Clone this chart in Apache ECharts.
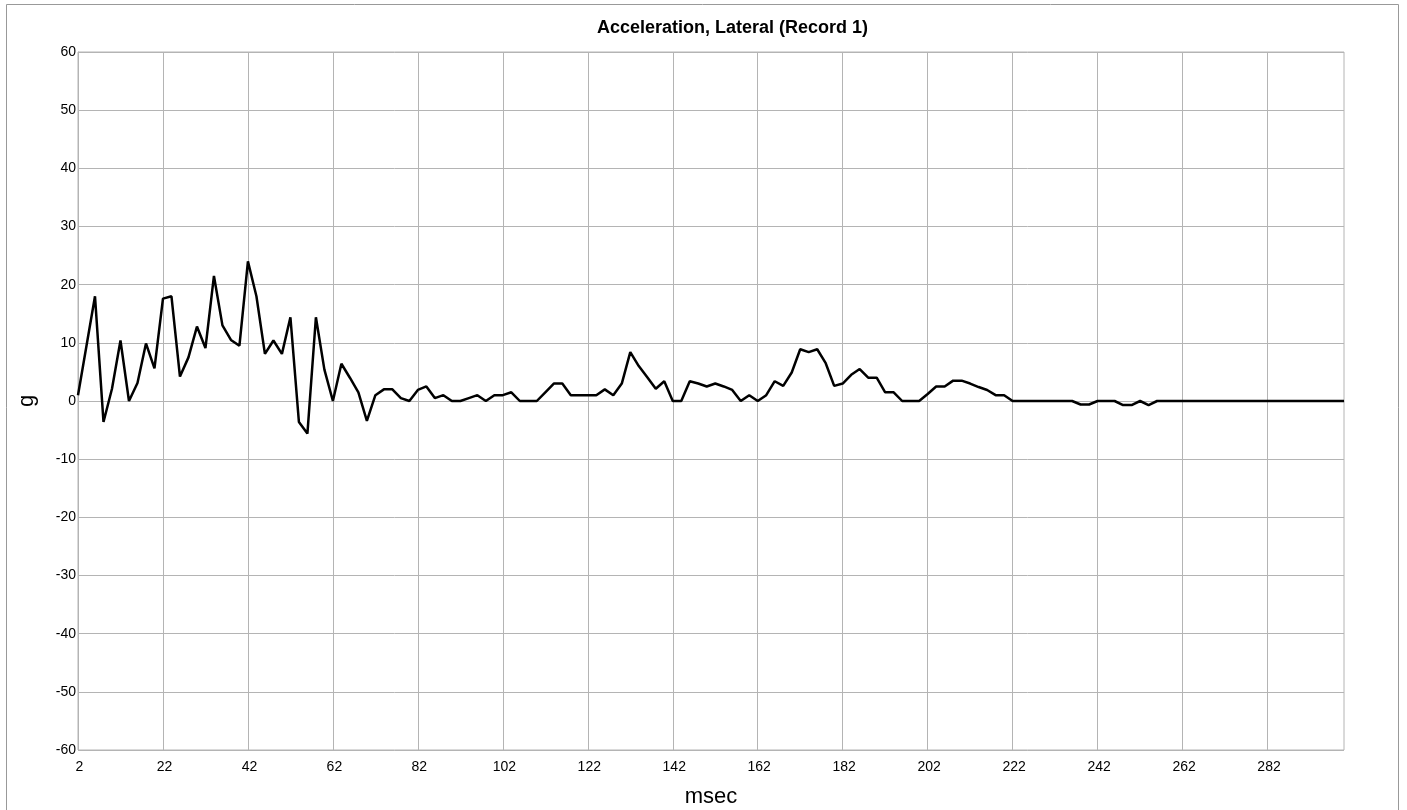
<!DOCTYPE html>
<html>
<head>
<meta charset="utf-8">
<script src="https://cdn.jsdelivr.net/npm/echarts@6/dist/echarts.min.js"></script>
<style>
  html, body { margin: 0; padding: 0; background: #fff; }
  #main { width: 1407px; height: 810px; }
</style>
</head>
<body>
<div id="main"></div>
<script>
// time stamps (msec)
var msec = [
  2, 4, 6, 8, 10, 12, 14, 16, 18, 20, 22, 24, 26, 28, 30, 32, 34, 36, 38, 40,
  42, 44, 46, 48, 50, 52, 54, 56, 58, 60, 62, 64, 66, 68, 70, 72, 74, 76, 78, 80,
  82, 84, 86, 88, 90, 92, 94, 96, 98, 100, 102, 104, 106, 108, 110, 112, 114, 116, 118, 120,
  122, 124, 126, 128, 130, 132, 134, 136, 138, 140, 142, 144, 146, 148, 150, 152, 154, 156, 158, 160,
  162, 164, 166, 168, 170, 172, 174, 176, 178, 180, 182, 184, 186, 188, 190, 192, 194, 196, 198, 200,
  202, 204, 206, 208, 210, 212, 214, 216, 218, 220, 222, 224, 226, 228, 230, 232, 234, 236, 238, 240,
  242, 244, 246, 248, 250, 252, 254, 256, 258, 260, 262, 264, 266, 268, 270, 272, 274, 276, 278, 280,
  282, 284, 286, 288, 290, 292, 294, 296, 298, 300
];

// lateral acceleration (g)
var accel = [
  1.0, 9.5, 18.0, -3.6, 2.1, 10.4, 0, 3.1, 9.9, 5.6, 17.6, 18.0, 4.2, 7.5, 12.8, 9.1, 21.5, 13.0, 10.5, 9.5,
  24.0, 18.0, 8.1, 10.4, 8.1, 14.4, -3.6, -5.6, 14.4, 5.4, 0, 6.4, 4.0, 1.5, -3.4, 1.0, 2.0, 2.0, 0.5, 0,
  1.9, 2.5, 0.5, 1.0, 0, 0, 0.5, 1.0, 0, 1.0, 1.0, 1.5, 0, 0, 0, 1.5, 3.0, 3.0, 1.0, 1.0,
  1.0, 1.0, 2.0, 1.0, 3.0, 8.4, 6.0, 4.1, 2.1, 3.4, 0, 0, 3.4, 3.0, 2.5, 3.0, 2.5, 1.9, 0, 1.0,
  0, 1.0, 3.4, 2.6, 4.9, 8.9, 8.4, 8.9, 6.5, 2.6, 3.0, 4.5, 5.5, 4.0, 4.0, 1.5, 1.5, 0, 0, 0,
  1.2, 2.5, 2.5, 3.5, 3.5, 3.0, 2.4, 1.9, 1.0, 1.0, 0, 0, 0, 0, 0, 0, 0, 0, -0.6, -0.6,
  0, 0, 0, -0.7, -0.7, 0, -0.7, 0, 0, 0, 0, 0, 0, 0, 0, 0, 0, 0, 0, 0,
  0, 0, 0, 0, 0, 0, 0, 0, 0, 0
];

var myChart = echarts.init(document.getElementById('main'));

var gridColor = '#b4b4b4';
var fontName = 'Liberation Sans, Arial, sans-serif';

var option = {
    animation: false,
    backgroundColor: '#fff',
    title: {
        text: 'Acceleration, Lateral (Record 1)',
        left: 592,
        top: 14,
        textStyle: {
            color: '#000',
            fontSize: 18,
            fontWeight: 'bold',
            fontFamily: fontName
        }
    },
    graphic: [{
        type: 'rect',
        shape: { x: 6.5, y: 4.5, width: 1392, height: 820 },
        style: { fill: 'none', stroke: '#999', lineWidth: 1 },
        silent: true
    }],
    grid: {
        left: 78,
        right: 63,
        top: 52,
        bottom: 60,
        containLabel: false,
        outerBoundsMode: 'none',
        show: true,
        borderColor: gridColor,
        borderWidth: 1,
        backgroundColor: 'transparent'
    },
    xAxis: {
        type: 'category',
        data: msec,
        boundaryGap: false,
        name: 'msec',
        nameLocation: 'middle',
        nameGap: 36,
        nameTextStyle: { color: '#000', fontSize: 22, fontFamily: fontName },
        axisLine: { show: true, lineStyle: { color: gridColor } },
        axisTick: {
            show: true,
            interval: 9,
            length: 4,
            alignWithLabel: true,
            lineStyle: { color: gridColor }
        },
        axisLabel: {
            interval: 9,
            color: '#000',
            fontSize: 14,
            fontFamily: fontName,
            margin: 10,
            padding: [0, 0, 0, 3]
        },
        splitLine: {
            show: true,
            interval: 9,
            lineStyle: { color: gridColor, width: 1 }
        }
    },
    yAxis: {
        type: 'value',
        min: -60,
        max: 60,
        interval: 10,
        name: 'g',
        nameLocation: 'middle',
        nameGap: 40,
        nameTextStyle: { color: '#000', fontSize: 22, fontFamily: fontName },
        axisLine: { show: true, lineStyle: { color: gridColor } },
        axisTick: { show: false },
        axisLabel: {
            color: '#000',
            fontSize: 14,
            fontFamily: fontName,
            margin: 2,
            padding: [5, 0, 0, 0]
        },
        splitLine: { show: true, lineStyle: { color: gridColor, width: 1 } }
    },
    series: [{
        name: 'Acceleration, Lateral',
        type: 'line',
        data: accel,
        symbol: 'none',
        lineStyle: { color: '#000', width: 2.5 },
        itemStyle: { color: '#000' }
    }]
};

myChart.setOption(option);
</script>
</body>
</html>
